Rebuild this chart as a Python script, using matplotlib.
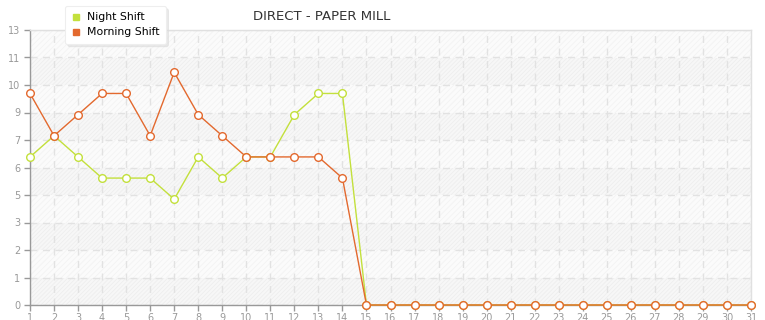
import matplotlib
matplotlib.use("Agg")
import matplotlib.pyplot as plt
import numpy as np
from matplotlib.lines import Line2D

days = list(range(1, 32))
night_shift = [7, 8, 7, 6, 6, 6, 5, 7, 6, 7, 7, 9, 10, 10] + [0] * 17
morning_shift = [10, 8, 9, 10, 10, 8, 11, 9, 8, 7, 7, 7, 7, 6] + [0] * 17
y_max = 13
n_y_ticks = 11

night_color = "#c3e03c"
morning_color = "#e3692e"

plt.rcParams["hatch.linewidth"] = 0.6

fig = plt.figure(figsize=(7.65, 3.2), dpi=100)
ax = fig.add_axes([30 / 765, 15 / 320, 721 / 765, 275 / 320])

# y ticks evenly spaced, labels truncated like the original widget
y_ticks = np.linspace(0, y_max, n_y_ticks)
y_labels = [str(int(np.floor(v + 1e-9))) for v in y_ticks]

# alternating background bands
for i in range(n_y_ticks - 1):
    lo, hi = y_ticks[i], y_ticks[i + 1]
    if i % 2 == 0:
        ax.axhspan(lo, hi, facecolor="#f7f7f7", edgecolor="#eeeeee",
                   hatch="////////", linewidth=0, zorder=0)
    else:
        ax.axhspan(lo, hi, facecolor="#fbfbfb", edgecolor="#f3f3f3",
                   hatch="//////", linewidth=0, zorder=0)

ax.set_xlim(1, 31)
ax.set_ylim(0, y_max)
ax.set_yticks(y_ticks)
ax.set_yticklabels(y_labels)
ax.set_xticks(days)
ax.set_xticklabels([str(d) for d in days])

ax.grid(True, color="#e2e2e2", linestyle=(0, (5, 4)), linewidth=1.0, zorder=1)

ax.plot(days, night_shift, color=night_color, linewidth=1.0, marker="o",
        markersize=5.5, markerfacecolor="white", markeredgecolor=night_color,
        markeredgewidth=1.0, label="Night Shift", zorder=3, clip_on=False)
ax.plot(days, morning_shift, color=morning_color, linewidth=1.0, marker="o",
        markersize=5.5, markerfacecolor="white", markeredgecolor=morning_color,
        markeredgewidth=1.0, label="Morning Shift", zorder=4, clip_on=False)

ax.tick_params(axis="both", labelsize=7, colors="#999999", length=4, width=1)
ax.tick_params(axis="y", pad=3)
ax.tick_params(axis="x", pad=2)
ax.spines["left"].set_color("#999999")
ax.spines["bottom"].set_color("#999999")
ax.spines["top"].set_color("#e0e0e0")
ax.spines["right"].set_color("#e0e0e0")
for s in ax.spines.values():
    s.set_linewidth(1.0)

fig.text(322 / 765, 1 - 17 / 320, "DIRECT - PAPER MILL", ha="center", va="center",
         fontsize=9.5, color="#333333")

handles = [
    Line2D([], [], linestyle="none", marker="s", markersize=4, color=night_color),
    Line2D([], [], linestyle="none", marker="s", markersize=4, color=morning_color),
]
leg = fig.legend(handles, ["Night Shift", "Morning Shift"], loc="upper left",
                 bbox_to_anchor=(65 / 765, 1 - 6 / 320), fontsize=7.8,
                 frameon=True, fancybox=True, shadow={"color": "#dddddd", "alpha": 0.6},
                 handlelength=0.8, handletextpad=0.6, labelspacing=0.45,
                 borderpad=0.6, borderaxespad=0)
leg.get_frame().set_edgecolor("#eeeeee")
leg.get_frame().set_linewidth(0.8)
leg.set_zorder(10)

fig.savefig("out.png", dpi=100)
